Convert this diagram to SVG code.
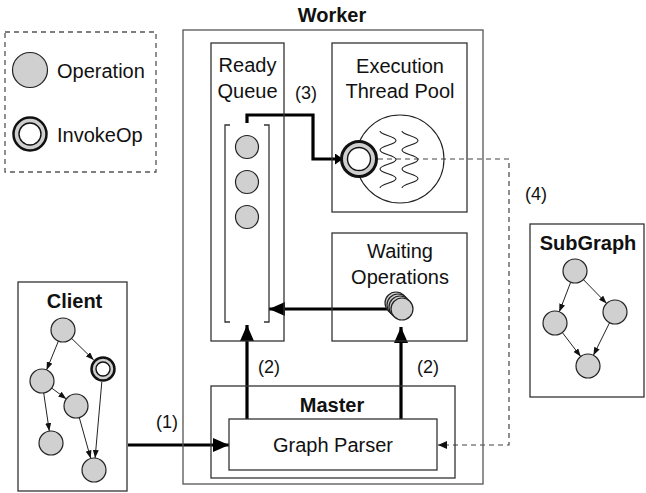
<svg xmlns="http://www.w3.org/2000/svg" width="646" height="493" viewBox="0 0 646 493">
<style>
text{font-family:"Liberation Sans",Arial,Helvetica,sans-serif;fill:#111;}
.t{font-size:20px;}
.b{font-size:20px;font-weight:bold;}
.n{font-size:18px;}
.c{text-anchor:middle;}
.box{fill:none;stroke:#333;stroke-width:1.3;}
.wbox{fill:#fff;stroke:#333;stroke-width:1.3;}
.op{fill:#d0d0d0;stroke:#222;stroke-width:1.2;}
.inv{fill:#cfcfcf;stroke:#111;stroke-width:2.5;}
.invin{fill:#fff;stroke:#111;stroke-width:1.4;}
.thick{fill:none;stroke:#000;stroke-width:3.2;}
.thin{fill:none;stroke:#222;stroke-width:1;}
.dash{fill:none;stroke:#444;stroke-width:1.2;stroke-dasharray:5 4;}
.wave{fill:none;stroke:#222;stroke-width:1.1;}
</style>
<defs>
<marker id="big" markerUnits="userSpaceOnUse" markerWidth="17" markerHeight="14" refX="16" refY="7" orient="auto"><path d="M0,0 L16,7 L0,14 z" fill="#000"/></marker>
<marker id="mid" markerUnits="userSpaceOnUse" markerWidth="9" markerHeight="11" refX="8" refY="5.5" orient="auto"><path d="M0,0 L8,5.5 L0,11 z" fill="#000"/></marker>
<marker id="sm" markerUnits="userSpaceOnUse" markerWidth="8" markerHeight="6" refX="8" refY="3" orient="auto"><path d="M0,0 L8,3 L0,6 z" fill="#111"/></marker>
<marker id="dsh" markerUnits="userSpaceOnUse" markerWidth="10" markerHeight="8" refX="9" refY="4" orient="auto"><path d="M0,0 L9,4 L0,8 z" fill="#111"/></marker>
</defs>

<g id="legend">
<rect x="5" y="32" width="151" height="140" fill="none" stroke="#555" stroke-width="1.3" stroke-dasharray="5 4"/>
<circle class="op" cx="30" cy="70" r="17.5"/>
<text class="t" x="57" y="78">Operation</text>
<circle class="inv" cx="30" cy="134" r="16.5"/>
<circle class="invin" cx="30" cy="134" r="11"/>
<text class="t" x="57" y="142">InvokeOp</text>
</g>

<g id="connectors">
<path class="thick" d="M247,123 V115 H313 V159 H343" marker-end="url(#mid)"/>
<path class="thick" d="M387,309 H269" marker-end="url(#big)"/>
<path class="thick" d="M247,419 V325" marker-end="url(#big)"/>
<path class="thick" d="M401,419 V327" marker-end="url(#big)"/>
<path class="thick" d="M128,445 H229" marker-end="url(#big)"/>
<path class="dash" d="M378,159 H509 V445 H438" marker-end="url(#dsh)"/>
<path class="thin" d="M58.4,341.1 L46.6,369.9" marker-end="url(#sm)"/>
<path class="thin" d="M71.6,338.4 L93.7,359.9" marker-end="url(#sm)"/>
<path class="thin" d="M51.7,388.1 L66.3,398.9" marker-end="url(#sm)"/>
<path class="thin" d="M43.7,392.9 L49.3,431.1" marker-end="url(#sm)"/>
<path class="thin" d="M79.3,417.6 L90.7,458.4" marker-end="url(#sm)"/>
<path class="thin" d="M101.8,382 L95.1,458" marker-end="url(#sm)"/>
<path class="thin" d="M570.7,282.2 L559.3,311.8" marker-end="url(#sm)"/>
<path class="thin" d="M583.4,279.6 L606.6,303.4" marker-end="url(#sm)"/>
<path class="thin" d="M562.3,332.5 L580.7,356.5" marker-end="url(#sm)"/>
<path class="thin" d="M609.6,322.7 L593.4,355.3" marker-end="url(#sm)"/>
</g>

<g id="worker">
<rect x="183" y="30" width="300" height="454" fill="none" stroke="#555" stroke-width="1.3"/>
<text class="b c" x="332" y="22">Worker</text>
</g>

<g id="ready-queue">
<rect class="box" x="211" y="43" width="73" height="298"/>
<text class="t c" x="247.5" y="72">Ready</text>
<text class="t c" x="247.5" y="98">Queue</text>
<path class="box" d="M230,125 H225 V322 H230 M264,125 H269 V322 H264"/>
<circle class="op" cx="247" cy="147" r="11.5"/>
<circle class="op" cx="247" cy="182" r="11.5"/>
<circle class="op" cx="247" cy="217" r="11.5"/>
</g>

<g id="thread-pool">
<rect class="box" x="332" y="43" width="135" height="169"/>
<text class="t c" x="400" y="73">Execution</text>
<text class="t c" x="400" y="98">Thread Pool</text>
<circle cx="400" cy="159" r="44" fill="none" stroke="#222" stroke-width="1.1"/>
<path class="wave" d="M380,131 C380,135 396,136 396,140.5 C396,145 380,145.5 380,150 C380,154.5 396,155 396,159.5 C396,164 380,164.5 380,169 C380,173.5 396,174 396,178.5 C396,183 380,183.5 380,188"/>
<path class="wave" d="M402,131 C402,135 418,136 418,140.5 C418,145 402,145.5 402,150 C402,154.5 418,155 418,159.5 C418,164 402,164.5 402,169 C402,173.5 418,174 418,178.5 C418,183 402,183.5 402,188"/>
<circle cx="359" cy="159" r="17.5" fill="#cfcfcf" stroke="#111" stroke-width="3"/>
<circle class="invin" cx="359" cy="159" r="11.5"/>
</g>

<g id="waiting-operations">
<rect class="box" x="332" y="233" width="135" height="108"/>
<text class="t c" x="400" y="258">Waiting</text>
<text class="t c" x="400" y="284">Operations</text>
<circle class="op" cx="396" cy="303" r="11"/>
<circle class="op" cx="398" cy="305" r="11"/>
<circle class="op" cx="400" cy="307" r="11"/>
<circle class="op" cx="402" cy="309" r="11"/>
</g>

<g id="master">
<rect class="box" x="211" y="386" width="244" height="92"/>
<text class="b c" x="332" y="412">Master</text>
</g>

<g id="graph-parser">
<rect class="wbox" x="229" y="419" width="208" height="51"/>
<text class="t c" x="333" y="452">Graph Parser</text>
</g>

<g id="client">
<rect class="box" x="18" y="282" width="109" height="209"/>
<text class="b c" x="74.5" y="308">Client</text>
<circle class="op" cx="63" cy="330" r="12"/>
<circle class="inv" cx="103" cy="369" r="11.5" stroke-width="2.2"/>
<circle class="invin" cx="103" cy="369" r="7" stroke-width="1.2"/>
<circle class="op" cx="42" cy="381" r="12"/>
<circle class="op" cx="76" cy="406" r="12"/>
<circle class="op" cx="51" cy="443" r="12"/>
<circle class="op" cx="94" cy="470" r="12"/>
</g>

<g id="subgraph">
<rect class="box" x="530" y="224" width="114" height="173"/>
<text class="b c" x="588" y="250">SubGraph</text>
<circle class="op" cx="575" cy="271" r="12"/>
<circle class="op" cx="615" cy="312" r="12"/>
<circle class="op" cx="555" cy="323" r="12"/>
<circle class="op" cx="588" cy="366" r="12"/>
</g>

<g id="labels">
<text class="n c" x="306" y="99">(3)</text>
<text class="n c" x="536" y="200">(4)</text>
<text class="n c" x="269" y="373">(2)</text>
<text class="n c" x="428" y="373">(2)</text>
<text class="n c" x="167" y="428">(1)</text>
</g>
</svg>
